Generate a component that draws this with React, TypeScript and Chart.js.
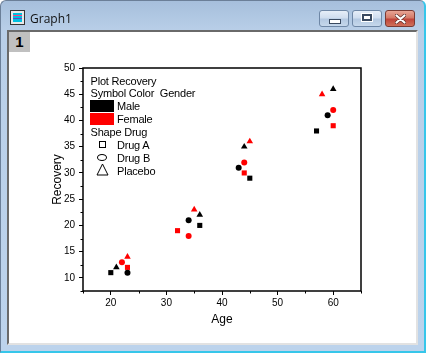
import React, { useEffect, useRef } from "react";
import { Chart, registerables } from "chart.js";

Chart.register(...registerables);

// Data: [Age, Recovery]
const maleDrugA = [[20, 11], [36, 20], [45, 29], [57, 38]];
const maleDrugB = [[23, 11], [34, 21], [43, 31], [59, 41]];
const malePlacebo = [[21, 12], [36, 22], [44, 35], [60, 46]];
const femaleDrugA = [[23, 12], [32, 19], [44, 30], [60, 39]];
const femaleDrugB = [[22, 13], [34, 18], [44, 32], [60, 42]];
const femalePlacebo = [[23, 14], [35, 23], [45, 36], [58, 45]];

const xRange = [15, 65];
const yRange = [7.5, 50];
const xMajorTicks = [20, 30, 40, 50, 60];
const xMinorTicks = [15, 25, 35, 45, 55, 65];
const yMajorTicks = [10, 15, 20, 25, 30, 35, 40, 45, 50];
const yMinorTicks = [7.5, 12.5, 17.5, 22.5, 27.5, 32.5, 37.5, 42.5, 47.5];

const MALE = "#000000";
const FEMALE = "#ff0000";
const FONT = "'Liberation Sans', Arial, sans-serif";

const seriesList = [
  { label: "Male Drug A", data: maleDrugA, color: MALE, style: "rect", r: 3.6 },
  { label: "Male Drug B", data: maleDrugB, color: MALE, style: "circle", r: 3 },
  { label: "Male Placebo", data: malePlacebo, color: MALE, style: "triangle", r: 3.8 },
  { label: "Female Drug A", data: femaleDrugA, color: FEMALE, style: "rect", r: 3.6 },
  { label: "Female Drug B", data: femaleDrugB, color: FEMALE, style: "circle", r: 3 },
  { label: "Female Placebo", data: femalePlacebo, color: FEMALE, style: "triangle", r: 3.8 },
];

const framePlugin = {
  id: "frameAndMinor",
  afterDraw(chart: any) {
    const { ctx, chartArea: a, scales } = chart;
    ctx.save();
    ctx.strokeStyle = "#000";
    ctx.lineWidth = 1.5;
    ctx.strokeRect(a.left, a.top, a.right - a.left, a.bottom - a.top);
    ctx.lineWidth = 1;
    ctx.beginPath();
    for (const v of xMinorTicks) {
      const px = Math.round(scales.x.getPixelForValue(v)) + 0.5;
      ctx.moveTo(px, a.bottom);
      ctx.lineTo(px, a.bottom + 2.5);
    }
    for (const v of yMinorTicks) {
      const py = Math.round(scales.y.getPixelForValue(v)) + 0.5;
      ctx.moveTo(a.left, py);
      ctx.lineTo(a.left - 2.5, py);
    }
    ctx.stroke();
    ctx.restore();
  },
};

function ChartCanvas() {
  const ref = useRef<HTMLCanvasElement | null>(null);
  useEffect(() => {
    if (!ref.current) return;
    const chart = new Chart(ref.current, {
      type: "scatter",
      data: {
        datasets: seriesList.map((s) => ({
          label: s.label,
          data: s.data.map(([x, y]) => ({ x, y })),
          pointStyle: s.style as any,
          pointRadius: s.r,
          pointHoverRadius: s.r,
          pointBorderWidth: 0,
          backgroundColor: s.color,
          borderColor: s.color,
        })),
      },
      options: {
        animation: false,
        responsive: false,
        layout: { padding: { top: 36, right: 56, bottom: 0, left: 0 } },
        plugins: { legend: { display: false }, tooltip: { enabled: false } },
        scales: {
          x: {
            type: "linear",
            min: xRange[0],
            max: xRange[1],
            afterBuildTicks: (scale: any) => {
              scale.ticks = xMajorTicks.map((v) => ({ value: v }));
            },
            afterFit: (scale: any) => {
              scale.height = 52;
            },
            grid: { drawOnChartArea: false, drawTicks: true, tickLength: 4, tickColor: "#000", tickWidth: 1 },
            border: { display: false },
            ticks: { color: "#000", font: { family: FONT, size: 10 }, padding: 2, maxRotation: 0, autoSkip: false },
            title: { display: true, text: "Age", color: "#000", font: { family: FONT, size: 12 }, padding: { top: 0, bottom: 16 } },
          },
          y: {
            type: "linear",
            min: yRange[0],
            max: yRange[1],
            afterBuildTicks: (scale: any) => {
              scale.ticks = yMajorTicks.map((v) => ({ value: v }));
            },
            afterFit: (scale: any) => {
              scale.width = 74;
            },
            grid: { drawOnChartArea: false, drawTicks: true, tickLength: 4, tickColor: "#000", tickWidth: 1 },
            border: { display: false },
            ticks: { color: "#000", font: { family: FONT, size: 10 }, padding: 4, autoSkip: false },
            title: { display: true, text: "Recovery", color: "#000", font: { family: FONT, size: 12 }, padding: { top: 41, bottom: 0 } },
          },
        },
      },
      plugins: [framePlugin],
    });
    return () => chart.destroy();
  }, []);
  return <canvas ref={ref} width={408} height={311} style={{ position: "absolute", left: 0, top: 0, width: 408, height: 311 }} />;
}

const abs = (left: number, top: number, extra: any = {}) => ({ position: "absolute" as const, left, top, ...extra });

function LegendText({ x, y, text }: { x: number; y: number; text: string }) {
  return (
    <div style={abs(x, y - 7, { font: `11px ${FONT}`, lineHeight: "14px", color: "#000", whiteSpace: "pre", letterSpacing: "-0.2px" })}>{text}</div>
  );
}

function Legend() {
  return (
    <>
      <LegendText x={90.5} y={80.5} text="Plot Recovery" />
      <LegendText x={90.5} y={93} text="Symbol Color  Gender" />
      <div style={abs(90, 100, { width: 24, height: 12, background: MALE })} />
      <LegendText x={117} y={105.5} text="Male" />
      <div style={abs(90, 113, { width: 24, height: 12, background: FEMALE })} />
      <LegendText x={117} y={118.5} text="Female" />
      <LegendText x={90.5} y={131.5} text="Shape Drug" />
      <div style={abs(99, 141, { width: 7, height: 7, border: "1px solid #000", boxSizing: "border-box" })} />
      <LegendText x={117} y={144.5} text="Drug A" />
      <div style={abs(97, 154, { width: 10, height: 7, border: "1px solid #000", borderRadius: "50%", boxSizing: "border-box" })} />
      <LegendText x={117} y={157.5} text="Drug B" />
      <svg style={abs(96, 163, { width: 13, height: 13 })} width={13} height={13}>
        <polygon points="6.5,1 12,12 1,12" fill="none" stroke="#000" strokeWidth={1} />
      </svg>
      <LegendText x={117} y={170.5} text="Placebo" />
    </>
  );
}

function TitleBar() {
  const btn = {
    position: "absolute" as const,
    top: 10,
    width: 30,
    height: 17,
    boxSizing: "border-box" as const,
    border: "1px solid #6e87a6",
    borderRadius: 3,
    background: "linear-gradient(to bottom, #e6eef8 0%, #d0deef 45%, #b4c9e2 55%, #c6d8ec 100%)",
  };
  return (
    <>
      <div style={abs(10, 10, { width: 15, height: 15, boxSizing: "border-box", border: "1px solid #333", background: "#e8e8e8" })}>
        <div style={abs(2, 2, { width: 9, height: 9, background: "linear-gradient(to bottom, #00c0e0 0 2px, #ff4080 2px 3px, #00c0e0 3px 5px, #7040c0 5px 6px, #00c0e0 6px 9px)" })} />
      </div>
      <div style={abs(30, 10, { font: `12px 'Open Sans', 'DejaVu Sans', sans-serif`, lineHeight: "17px", color: "#111" })}>Graph1</div>
      <div style={{ ...btn, left: 319 }}>
        <div style={abs(9, 8, { width: 10, height: 3, border: "1px solid #3a4a60", background: "#fff" })} />
      </div>
      <div style={{ ...btn, left: 352 }}>
        <div style={abs(9, 3, { width: 10, height: 7, boxSizing: "border-box", border: "2px solid #3a4a60", background: "#fff", boxShadow: "0 0 0 1px #fff" })} />
      </div>
      <div
        style={{
          ...btn,
          left: 385,
          border: "1px solid #7a3a33",
          background: "linear-gradient(to bottom, #e8a494 0%, #d47a68 45%, #c0443a 55%, #d0705a 100%)",
        }}
      >
        <svg style={abs(9, 3, { width: 11, height: 10 })} width={11} height={10}>
          <path d="M1.5 1.5 L9.5 8.5 M9.5 1.5 L1.5 8.5" stroke="#5a2a25" strokeWidth={3.5} strokeLinecap="round" />
          <path d="M1.5 1.5 L9.5 8.5 M9.5 1.5 L1.5 8.5" stroke="#ffffff" strokeWidth={2.2} strokeLinecap="round" />
        </svg>
      </div>
    </>
  );
}

export default function App() {
  return (
    <div
      style={{
        position: "fixed",
        left: 0,
        top: 0,
        width: 426,
        height: 353,
        boxSizing: "border-box",
        background: "linear-gradient(to bottom, #a6bfdc 0px, #b9cfe8 30px, #bcd3ec 100%)",
        borderTopLeftRadius: 6,
        borderTopRightRadius: 6,
        border: "1px solid #6b7f98",
        borderBottom: "2px solid #36c6ea",
        borderRight: "2px solid #36c6ea",
        overflow: "hidden",
      }}
    >
      <div style={{ position: "absolute", left: -1, top: -1, width: 426, height: 353 }}>
        <TitleBar />
        <div
          style={{
            position: "absolute",
            left: 7,
            top: 30,
            width: 411,
            height: 315,
            boxSizing: "border-box",
            borderLeft: "2px solid #6a6a6a",
            borderTop: "2px solid #6a6a6a",
            borderRight: "2px solid #e2e2e2",
            borderBottom: "2px solid #e2e2e2",
            background: "#fff",
          }}
        >
          <div style={{ position: "absolute", left: 0, top: 0, width: 408, height: 311 }}>
            <ChartCanvas />
            <div style={abs(0, 0, { width: 21, height: 20, background: "#c0c0c0", font: `bold 15px ${FONT}`, lineHeight: "20px", textAlign: "center", color: "#000" })}>1</div>
            <div style={abs(-9, -32)}>
              <Legend />
            </div>
          </div>
        </div>
      </div>
    </div>
  );
}
